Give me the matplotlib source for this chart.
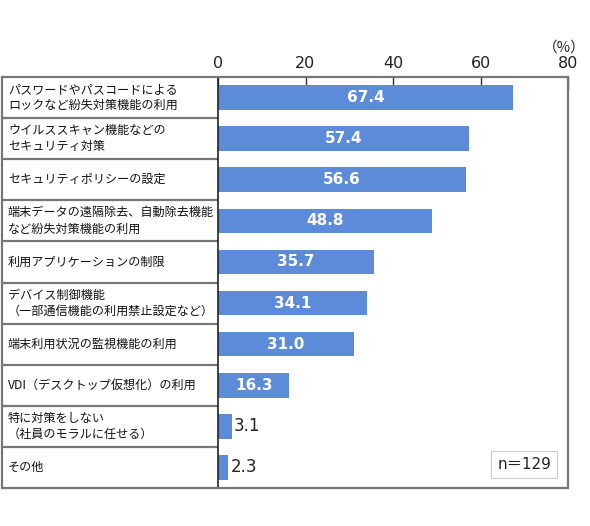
import matplotlib
matplotlib.use("Agg")
import matplotlib.pyplot as plt
import matplotlib.transforms as mtransforms

plt.rcParams['font.family'] = ['Noto Sans CJK JP', 'DejaVu Sans']

categories = [
    "パスワードやパスコードによる\nロックなど紛失対策機能の利用",
    "ウイルススキャン機能などの\nセキュリティ対策",
    "セキュリティポリシーの設定",
    "端末データの遠隔除去、自動除去機能\nなど紛失対策機能の利用",
    "利用アプリケーションの制限",
    "デバイス制御機能\n（一部通信機能の利用禁止設定など）",
    "端末利用状況の監視機能の利用",
    "VDI（デスクトップ仮想化）の利用",
    "特に対策をしない\n（社員のモラルに任せる）",
    "その他",
]
values = [67.4, 57.4, 56.6, 48.8, 35.7, 34.1, 31.0, 16.3, 3.1, 2.3]
xticks = [0, 20, 40, 60, 80]
n_label = "n＝129"

W, H = 590, 526
fig = plt.figure(figsize=(W/100, H/100), dpi=100)
x0, x1, yt, yb = 218, 568, 77, 488
ax = fig.add_axes([x0/W, 1-yb/H, (x1-x0)/W, (yb-yt)/H])

bar_color = "#5B8BD9"
ys = list(range(len(values)))
ax.barh(ys, values, height=0.6, color=bar_color, zorder=2)
ax.set_xlim(0, 80)
ax.set_ylim(len(values)-0.5, -0.5)

for y, v in zip(ys, values):
    if v > 10:
        ax.text(v/2, y, f"{v:.1f}", ha='center', va='center', color='white',
                fontsize=11, fontweight='bold', family=['DejaVu Sans'], zorder=3)
    else:
        ax.text(v+0.5, y, f"{v:.1f}", ha='left', va='center', color='#222222',
                fontsize=12, family=['DejaVu Sans'], zorder=3)

# spines
for s in ['bottom', 'right', 'top']:
    ax.spines[s].set_color('#777777')
    ax.spines[s].set_linewidth(1.6)
ax.spines['left'].set_color('#222222')
ax.spines['left'].set_linewidth(1.2)

ax.xaxis.tick_top()
ax.set_xticks(xticks)
ax.set_xticklabels([str(t) for t in xticks], fontsize=11.5, family=['DejaVu Sans'], color='#222222')
ax.tick_params(axis='x', direction='in', length=9, width=1, color='#333333', pad=4)
ax.set_yticks([])

# table on the left
left_ax = (2 - x0) / (x1 - x0)
trans = mtransforms.blended_transform_factory(ax.transAxes, ax.transData)
for k in range(len(values)+1):
    yb_ = k - 0.5
    ax.plot([left_ax, 0], [yb_, yb_], transform=trans, color='#777777', lw=1.6,
            clip_on=False, solid_capstyle='butt', zorder=1)
ax.plot([left_ax, left_ax], [-0.5, len(values)-0.5], transform=trans, color='#777777',
        lw=1.6, clip_on=False, zorder=1)

text_x = (8 - x0) / (x1 - x0)
for y, c in zip(ys, categories):
    ax.text(text_x, y, c, transform=trans, ha='left', va='center', fontsize=8.7,
            color='#111111', linespacing=1.3)

# (%) label
fig.text(586/W, 1-52/H, "（%）", ha='right', va='baseline', fontsize=10.5, color='#222222')

# n label box
ax.text(70, 8.92, n_label, ha='center', va='center', fontsize=11,
        family=['DejaVu Sans', 'Noto Sans CJK JP'],
        color='#222222', bbox=dict(boxstyle='square,pad=0.4', fc='white', ec='#cccccc', lw=0.8))

fig.savefig("out.png", dpi=100, facecolor='white')
